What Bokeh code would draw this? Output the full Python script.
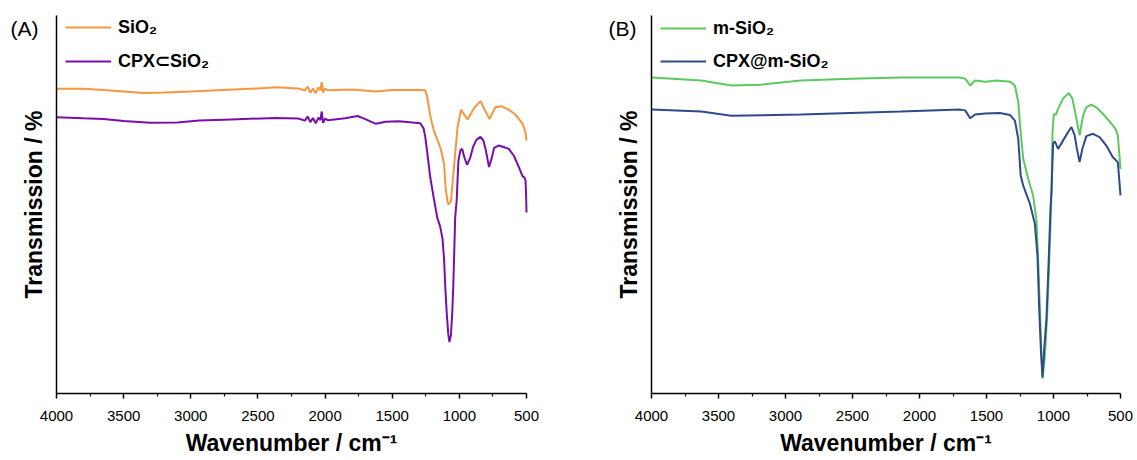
import math
from bokeh.plotting import figure
from bokeh.models import Range1d, FixedTicker, Label, Legend, LegendItem
from bokeh.layouts import row
from bokeh.embed import file_html
from bokeh.resources import INLINE

# ---------------- data ----------------
x_ticks = [4000, 3500, 3000, 2500, 2000, 1500, 1000, 500]
x_minor = [3750, 3250, 2750, 2250, 1750, 1250, 750]

sio2_wn = [4000, 3800, 3650, 3500, 3350, 3200, 3000, 2760, 2500, 2365,
           2200, 2150, 2130, 2110, 2090, 2070, 2050, 2035, 2025, 2015,
           2000, 1980, 1800, 1622, 1500, 1325, 1254, 1241, 1216, 1191,
           1139, 1114, 1102, 1088, 1081, 1063, 1038, 1013, 988, 939,
           887, 842, 812, 775, 733, 686, 634, 582, 530, 515,
           505, 500]
sio2_t = [80.6, 80.6, 80.3, 79.9, 79.5, 79.6, 79.9, 80.3, 80.7, 81.0,
          80.7, 80.2, 81.2, 79.6, 80.7, 79.4, 81.0, 80.2, 82.4, 79.6,
          80.7, 80.2, 80.4, 79.9, 80.3, 80.3, 80.2, 78.7, 73.3, 69.7,
          64.8, 60.7, 54.3, 50.8, 50.0, 50.8, 60.7, 70.6, 75.1, 72.5,
          75.7, 77.35, 75.1, 72.6, 75.7, 76.0, 75.1, 73.8, 71.4, 70.0,
          68.5, 66.9]

cpx_wn = [4000, 3800, 3650, 3500, 3300, 3100, 2937, 2700, 2365, 2200,
          2150, 2130, 2110, 2090, 2070, 2050, 2035, 2025, 2015, 2000,
          1980, 1850, 1758, 1700, 1622, 1550, 1450, 1291, 1266, 1254,
          1241, 1216, 1190, 1165, 1144, 1126, 1114, 1104, 1094, 1083,
          1074, 1063, 1053, 1045, 1038, 1031, 1020, 1007, 992, 979,
          962, 942, 919, 898, 873, 843, 822, 805, 779, 758,
          741, 708, 671, 632, 594, 556, 530, 515, 507, 503,
          500]
cpx_t = [73.1, 72.8, 72.6, 72.1, 71.6, 71.7, 72.2, 72.5, 72.9, 72.75,
         72.2, 73.3, 71.8, 72.9, 71.5, 73.0, 72.3, 74.6, 71.6, 72.7,
         72.3, 72.8, 73.4, 72.6, 71.35, 71.9, 72.0, 71.5, 70.1, 67.9,
         64.3, 57.0, 51.6, 46.6, 44.3, 41.1, 35.7, 27.6, 21.3, 15.9,
         13.6, 15.4, 21.3, 28.5, 37.5, 46.6, 51.1, 61.6, 64.4, 64.7,
         62.4, 60.5, 62.4, 65.2, 67.1, 67.9, 67.0, 64.7, 59.9, 62.4,
         65.0, 65.6, 65.2, 64.7, 62.9, 59.8, 57.5, 57.1, 56.3, 52.4,
         47.9]

msio2_wn = [4000, 3628, 3405, 3183, 2885, 2514, 2142, 1696, 1659, 1622,
            1585, 1510, 1424, 1325, 1288, 1263, 1245, 1226, 1189, 1152,
            1127, 1115, 1102, 1089, 1082, 1065, 1048, 1035, 1022, 1015,
            1007, 998, 983, 966, 929, 886, 859, 829, 805, 780,
            755, 718, 681, 632, 582, 537, 520, 500]
msio2_t = [83.6, 82.8, 81.5, 81.7, 82.8, 83.3, 83.6, 83.6, 83.3, 81.5,
           82.8, 82.5, 82.8, 82.5, 81.5, 77.1, 69.1, 62.1, 56.8, 52.4,
           45.8, 36.1, 22.8, 9.6, 3.9, 9.6, 20.2, 31.7, 45.0, 53.7,
           69.1, 74.0, 73.7, 75.3, 78.0, 79.5, 78.0, 72.7, 68.3, 73.5,
           75.7, 76.4, 75.7, 74.0, 72.0, 70.0, 68.3, 59.4]

cpxm_wn = [4000, 3628, 3405, 2885, 2142, 1696, 1659, 1622, 1585, 1510,
           1399, 1325, 1288, 1263, 1245, 1226, 1176, 1139, 1119, 1107,
           1094, 1082, 1070, 1052, 1035, 1022, 1015, 1003, 990, 966,
           929, 892, 866, 842, 825, 805, 785, 755, 706, 656,
           606, 557, 520, 500]
cpxm_t = [75.1, 74.6, 73.5, 73.8, 74.6, 75.1, 74.9, 72.8, 73.8, 74.1,
          74.2, 73.7, 72.2, 67.4, 57.7, 55.0, 50.2, 44.9, 36.1, 22.8,
          11.4, 4.3, 11.4, 20.2, 36.1, 49.3, 53.3, 66.1, 66.7, 64.7,
          66.9, 69.1, 70.5, 68.3, 64.7, 61.2, 64.7, 68.1, 68.7, 67.8,
          65.6, 62.5, 61.2, 52.4]

panels = [
    dict(tag="(A)", series=[("SiO\u2082", sio2_wn, sio2_t, "#F8963F"),
                            ("CPX\u2282SiO\u2082", cpx_wn, cpx_t, "#7A0EAA")]),
    dict(tag="(B)", series=[("m-SiO\u2082", msio2_wn, msio2_t, "#5CC95F"),
                            ("CPX@m-SiO\u2082", cpxm_wn, cpxm_t, "#2E4A8A")]),
]

FONT = "Liberation Sans"
H = 460
PLOT_TOP = 15      # pixel row of the top of the y axis
PLOT_BOTTOM = 393  # pixel row of the x axis


def make_panel(cfg, width, ax_left, ax_right, tag_x, ylab_x):
    # the frame fills the whole canvas; data ranges are set so the axes sit
    # at the pixel positions of the reference
    kx = (x_ticks[0] - x_ticks[-1]) / (ax_right - ax_left)
    ky = 100.0 / (PLOT_BOTTOM - PLOT_TOP)
    xr = Range1d(x_ticks[0] + ax_left * kx, x_ticks[-1] - (width - ax_right) * kx)
    yr = Range1d(0 - (H - PLOT_BOTTOM) * ky, 100 + PLOT_TOP * ky)
    p = figure(width=width, height=H, output_backend="svg", toolbar_location=None,
               x_range=xr, y_range=yr,
               min_border_left=0, min_border_right=0,
               min_border_top=0, min_border_bottom=0)
    p.outline_line_color = None
    p.grid.visible = False
    p.background_fill_color = "white"
    p.border_fill_color = "white"

    items = []
    for name, xs, ys, col in cfg["series"]:
        r = p.line(xs, ys, line_color=col, line_width=2)
        items.append(LegendItem(label=name, renderers=[r]))

    xa = p.xaxis[0]
    xa.fixed_location = 0
    xa.bounds = (x_ticks[-1], x_ticks[0])
    xa.ticker = FixedTicker(ticks=x_ticks, minor_ticks=x_minor)
    xa.major_label_text_font = FONT
    xa.major_label_text_font_size = "15px"
    xa.major_label_text_color = "black"
    xa.major_label_standoff = 12
    xa.axis_line_width = 1.5
    xa.major_tick_line_width = 1.5
    xa.minor_tick_line_width = 1.2
    xa.major_tick_in = 0
    xa.major_tick_out = 5
    xa.minor_tick_in = 0
    xa.minor_tick_out = 3
    xa.axis_line_color = "black"

    ya = p.yaxis[0]
    ya.fixed_location = x_ticks[0]
    ya.bounds = (0, 100)
    ya.ticker = FixedTicker(ticks=[])
    ya.major_tick_out = 0
    ya.minor_tick_out = 0
    ya.major_label_text_font_size = "0px"
    ya.axis_line_width = 1.5
    ya.axis_line_color = "black"

    leg = Legend(items=items, location=(ax_left + 9, H - 17.5 - 54), margin=0, padding=0,
                 spacing=12, glyph_width=46, glyph_height=20, label_height=20,
                 label_standoff=7, label_text_font=FONT, label_text_font_style="bold",
                 label_text_font_size="18px", label_text_color="black",
                 background_fill_alpha=0, border_line_color=None)
    p.add_layout(leg)

    # panel tag
    p.add_layout(Label(x=tag_x, y=H - 28, x_units="screen", y_units="screen",
                       text=cfg["tag"], text_baseline="middle", text_align="left",
                       text_font=FONT, text_font_size="21px", text_color="black"))
    # y axis title
    p.add_layout(Label(x=ylab_x, y=H - (PLOT_TOP + PLOT_BOTTOM) / 2, x_units="screen",
                       y_units="screen", angle=math.pi / 2, text="Transmission / %",
                       text_baseline="middle", text_align="center",
                       text_font=FONT, text_font_style="bold", text_font_size="23px",
                       text_color="black"))
    # x axis title
    p.add_layout(Label(x=(ax_left + ax_right) / 2, y=H - 442, x_units="screen",
                       y_units="screen", text="Wavenumber / cm\u207B\u00B9",
                       text_baseline="middle", text_align="center",
                       text_font=FONT, text_font_style="bold", text_font_size="23px",
                       text_color="black"))
    return p


pa = make_panel(panels[0], 568, 56, 526, 10, 33)
pb = make_panel(panels[1], 569, 83, 552, 40, 60)
layout = row(pa, pb)

open("out.html", "w").write(file_html(layout, INLINE))
